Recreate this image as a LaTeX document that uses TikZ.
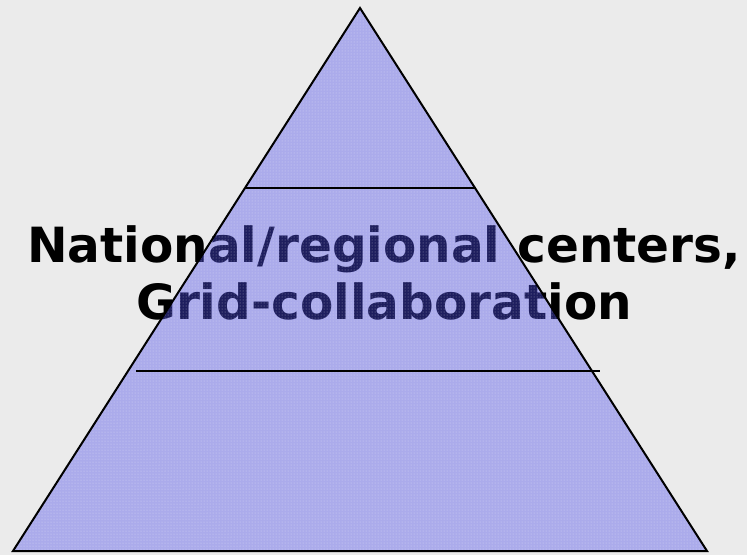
\documentclass[tikz,border=0pt]{standalone}
\usepackage{fontspec}
\setmainfont{DejaVu Sans}
\usetikzlibrary{patterns,positioning}
\definecolor{pyramid}{RGB}{75,75,237}
\definecolor{backdrop}{RGB}{235,235,235}

\begin{document}
\begin{tikzpicture}[x=1pt,y=-1pt]
    \tikzset{
        title/.style={font=\fontsize{48.5}{57}\selectfont\bfseries, anchor=base, inner sep=0pt},
        layer/.style={line width=2pt}
    }
    % Background
    \fill[backdrop] (0,0) rectangle (747,555);
    \useasboundingbox (0,0) rectangle (747,555);

    % Corners of the pyramid
    \coordinate (apex) at (360,8);
    \coordinate (left) at (13,551);
    \coordinate (right) at (707,551);

    % Title (lies under the pyramid fill)
    \node[title] (line1) at (384,262) {National/regional centers,};
    \node[title] (line2) at (384,319) {Grid-collaboration};

    % Pyramid
    \fill[pyramid, fill opacity=0.4] (apex) -- (left) -- (right) -- cycle;
    \fill[pattern=dots, pattern color=white, fill opacity=0.5] (apex) -- (left) -- (right) -- cycle;
    \draw[layer, line join=miter] (apex) -- (left) -- (right) -- cycle;

    % Layers
    \coordinate (top l) at (245,188);
    \coordinate (top r) at (476,188);
    \coordinate (mid l) at (136,371);
    \coordinate (mid r) at (600,371);
    \draw[layer] (top l) -- (top r);
    \draw[layer] (mid l) -- (mid r);
\end{tikzpicture}
\end{document}
